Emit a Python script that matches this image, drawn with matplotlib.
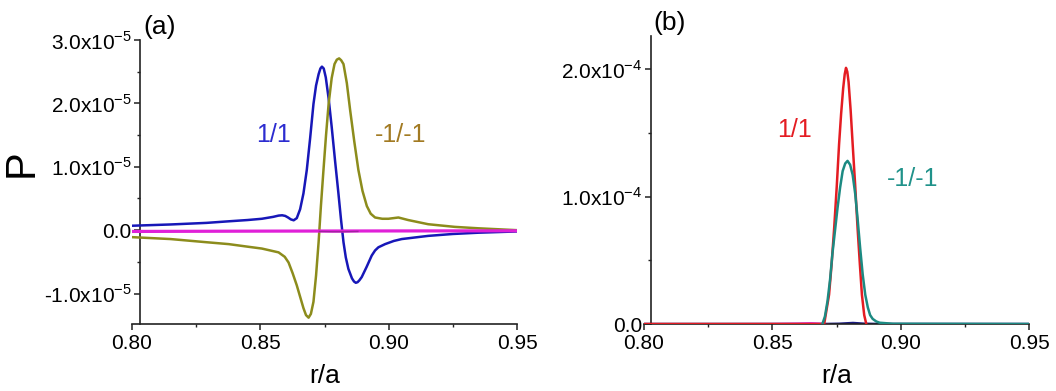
import matplotlib
matplotlib.use("Agg")
import matplotlib.pyplot as plt
from matplotlib.ticker import FixedLocator, MultipleLocator

plt.rcParams['font.family'] = ['Liberation Sans', 'DejaVu Sans']
plt.rcParams['mathtext.fontset'] = 'custom'
plt.rcParams['mathtext.rm'] = 'Liberation Sans'

# ---------------- data: panel (a), P in units of 1e-5 ----------------
r_a_11 = [0.800, 0.815, 0.829, 0.8377, 0.845, 0.8506, 0.855, 0.8571, 0.8585, 0.8597,
          0.8608, 0.8619, 0.863, 0.8642, 0.8655, 0.8668, 0.8681, 0.8694, 0.8707, 0.8717,
          0.8727, 0.8734, 0.874, 0.8747, 0.8755, 0.8766, 0.8778, 0.8791, 0.8804, 0.8814,
          0.8824, 0.8833, 0.8843, 0.8857, 0.8865, 0.8872, 0.8879, 0.8886, 0.8895, 0.8914,
          0.8934, 0.8947, 0.896, 0.8986, 0.9020, 0.9051, 0.9154, 0.9250, 0.9348, 0.950]
p_a_11 = [0.07, 0.09, 0.115, 0.14, 0.16, 0.18, 0.21, 0.23, 0.235, 0.225,
          0.20, 0.17, 0.156, 0.19, 0.33, 0.58, 0.95, 1.45, 1.99, 2.28,
          2.46, 2.55, 2.58, 2.55, 2.41, 2.08, 1.63, 1.10, 0.59, 0.18,
          -0.19, -0.43, -0.61, -0.76, -0.81, -0.83, -0.82, -0.79, -0.74, -0.58,
          -0.40, -0.32, -0.27, -0.22, -0.17, -0.14, -0.09, -0.06, -0.04, -0.02]

r_a_m11 = [0.800, 0.815, 0.829, 0.8377, 0.845, 0.8506, 0.8571, 0.8595, 0.861, 0.8626,
           0.8642, 0.8655, 0.8668, 0.8678, 0.8688, 0.8697, 0.8707, 0.8717, 0.8727, 0.8736,
           0.8746, 0.8756, 0.8766, 0.8778, 0.8789, 0.8798, 0.8807, 0.8815, 0.8824, 0.8837,
           0.885, 0.8866, 0.8882, 0.8898, 0.8915, 0.893, 0.8947, 0.8975, 0.8999, 0.9038,
           0.9076, 0.9154, 0.9258, 0.9348, 0.950]
p_a_m11 = [-0.11, -0.14, -0.19, -0.22, -0.26, -0.29, -0.35, -0.42, -0.51, -0.68,
           -0.87, -1.05, -1.23, -1.34, -1.38, -1.32, -1.13, -0.72, -0.19, 0.38,
           0.95, 1.50, 1.99, 2.40, 2.62, 2.69, 2.71, 2.68, 2.62, 2.32,
           1.89, 1.40, 0.95, 0.62, 0.38, 0.26, 0.20, 0.18, 0.18, 0.20,
           0.16, 0.094, 0.052, 0.03, 0.0]

r_a_base = [0.800, 0.850, 0.900, 0.950]
p_a_base = [-0.02, -0.015, -0.012, -0.01]

r_a_dark = [0.873, 0.878, 0.883, 0.888]
p_a_dark = [-0.02, -0.025, -0.025, -0.02]

# ---------------- data: panel (b), P in units of 1e-4 ----------------
r_b_11 = [0.800, 0.8702, 0.8721, 0.8731, 0.8741, 0.8751, 0.876, 0.8768, 0.8776, 0.8782,
          0.8787, 0.8792, 0.8797, 0.8805, 0.8813, 0.8823, 0.8832, 0.8841, 0.8849, 0.8858,
          0.8866]
p_b_11 = [0.0, 0.0, 0.23, 0.47, 0.755, 1.08, 1.41, 1.65, 1.85, 1.96,
          2.01, 1.98, 1.90, 1.68, 1.41, 1.08, 0.755, 0.47, 0.23, 0.07,
          0.0]

r_b_m11 = [0.8695, 0.8705, 0.8715, 0.8725, 0.8734, 0.8744, 0.8754, 0.8764, 0.8774, 0.8784,
           0.8793, 0.8803, 0.8813, 0.8823, 0.8832, 0.8842, 0.8852, 0.8862, 0.8872, 0.8881,
           0.8891, 0.8905, 0.8918, 0.897, 0.950]
p_b_m11 = [0.0, 0.06, 0.18, 0.35, 0.55, 0.73, 0.91, 1.07, 1.20, 1.26,
           1.28, 1.25, 1.17, 1.02, 0.83, 0.60, 0.39, 0.23, 0.13, 0.07,
           0.04, 0.02, 0.01, 0.002, 0.0]

r_b_base = [0.800, 0.870, 0.876, 0.8814, 0.886, 0.892, 0.950]
p_b_base = [0.0, 0.0, 0.002, 0.008, 0.002, 0.0, 0.0]

r_b_mag = [0.800, 0.850, 0.860, 0.865, 0.869, 0.872]
p_b_mag = [0.0, 0.002, 0.005, 0.008, 0.004, 0.0]

xticks = [0.80, 0.85, 0.90, 0.95]
xtick_labels = ['0.80', '0.85', '0.90', '0.95']
yticks_a = [-1.0, 0.0, 1.0, 2.0, 3.0]
ytick_labels_a = [r'-1.0x10$^{\mathregular{-5}}$', '0.0', r'1.0x10$^{\mathregular{-5}}$',
                  r'2.0x10$^{\mathregular{-5}}$', r'3.0x10$^{\mathregular{-5}}$']
yticks_b = [0.0, 1.0, 2.0]
ytick_labels_b = ['0.0', r'1.0x10$^{\mathregular{-4}}$', r'2.0x10$^{\mathregular{-4}}$']

BLUE = '#1717b8'
OLIVE = '#8c8c1c'
MAGENTA = '#e020d8'
RED = '#e41c22'
TEAL = '#1c8a82'
NAVY = '#1a1a80'

fig = plt.figure(figsize=(10.56, 3.91), dpi=100)
W, H = 1056, 391
ax_a = fig.add_axes([132 / W, 1 - 324 / H, 385 / W, (324 - 40) / H])
ax_b = fig.add_axes([644 / W, 1 - 324 / H, 385 / W, (324 - 36) / H])


def style(ax, yticks, ylabels, spine_off):
    ax.set_xlim(0.80, 0.95)
    for s in ('top', 'right'):
        ax.spines[s].set_visible(False)
    for s in ('left', 'bottom'):
        ax.spines[s].set_linewidth(1.2)
        ax.spines[s].set_color('#222222')
    ax.spines['left'].set_position(('axes', spine_off))
    ax.xaxis.set_major_locator(FixedLocator(xticks))
    ax.set_xticklabels(xtick_labels)
    ax.xaxis.set_minor_locator(MultipleLocator(0.025))
    ax.yaxis.set_major_locator(FixedLocator(yticks))
    ax.set_yticklabels(ylabels)
    ax.tick_params(which='major', direction='out', length=4, width=1.1, labelsize=15,
                   color='#222222', pad=3)
    ax.tick_params(which='minor', direction='out', length=2.5, width=1.0, color='#222222')
    ax.tick_params(axis='y', pad=2)
    ax.set_xlabel('r/a', fontsize=19, labelpad=8)


# panel (a)
ax_a.plot(r_a_11, p_a_11, color=BLUE, lw=1.8, zorder=3)
ax_a.plot(r_a_m11, p_a_m11, color=OLIVE, lw=1.8, zorder=3)
ax_a.plot(r_a_base, p_a_base, color=MAGENTA, lw=2.3, zorder=4)
ax_a.plot(r_a_dark, p_a_dark, color='#a020a0', lw=1.0, zorder=5)
ax_a.set_ylim(-1.48, 3.0)
ax_a.yaxis.set_minor_locator(MultipleLocator(0.5))
style(ax_a, yticks_a, ytick_labels_a, 8 / 385)
ax_a.text(0.8553, 1.5, '1/1', color='#2c2cd0', fontsize=18, ha='center', va='center')
ax_a.text(0.9047, 1.5, '-1/-1', color='#a27a22', fontsize=18, ha='center', va='center')
ax_a.text(0.8107, 3.2, '(a)', fontsize=19, ha='center', va='center', clip_on=False)

# panel (b)
ax_b.plot(r_b_base, p_b_base, color=NAVY, lw=1.8, zorder=2)
ax_b.plot(r_b_mag, p_b_mag, color=MAGENTA, lw=1.2, zorder=2)
ax_b.plot(r_b_11, p_b_11, color=RED, lw=1.8, zorder=3)
ax_b.plot(r_b_m11, p_b_m11, color=TEAL, lw=1.8, zorder=4)
ax_b.set_ylim(0.0, 2.26)
ax_b.yaxis.set_minor_locator(MultipleLocator(0.5))
style(ax_b, yticks_b, ytick_labels_b, 7 / 385)
ax_b.text(0.8588, 1.52, '1/1', color=RED, fontsize=18, ha='center', va='center')
ax_b.text(0.9048, 1.14, '-1/-1', color='#20928a', fontsize=18, ha='center', va='center')
ax_b.text(0.8101, 2.36, '(b)', fontsize=19, ha='center', va='center', clip_on=False)

fig.text(22 / W, 1 - 163 / H, 'P', fontsize=30, rotation=90, ha='center', va='center')

fig.savefig('out.png', dpi=100)
